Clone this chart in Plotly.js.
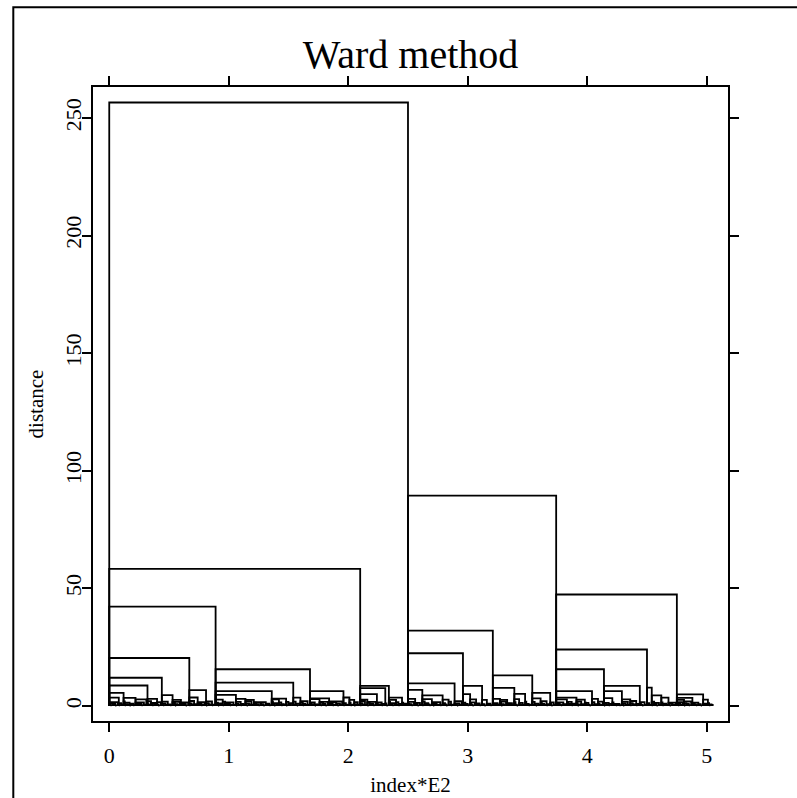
<!DOCTYPE html>
<html>
<head>
<meta charset="utf-8">
<script src="https://cdn.plot.ly/plotly-3.0.1.min.js"></script>
<style>html,body{margin:0;padding:0;background:#fff;}#chart{width:797px;height:798px;}</style>
</head>
<body>
<div id="chart"></div>
<script>
// Leaf index where a right-hand cluster starts, and the height at which it joins the cluster to its left
const majorLeaf = [
  8, 12, 22, 31, 32, 40, 44, 53, 60, 67, 74, 81, 89, 95, 106, 114, 121, 136, 142, 148, 154, 160, 168, 176, 184, 196, 201, 205,
  210, 216, 224, 231, 234, 240, 245, 250,
  256, 262, 270, 279, 284, 289, 296, 302, 307, 312, 316, 321, 327, 333, 339, 343, 348, 354, 361, 369,
  374, 383, 391, 398, 404, 409, 414, 421, 429, 436, 444, 450, 454, 462, 468, 475, 481, 488, 497, 501
];
const majorHeight = [
  3.5, 5.6, 3.4, 2.8, 8.7, 3.0, 12.0, 4.6, 2.6, 20.4, 3.6, 6.7, 42.2, 2.7, 4.7, 3.0, 2.6, 6.3, 2.8, 3.1, 9.9, 3.5, 15.6, 2.9, 3.2, 6.3, 3.6, 2.6,
  58.3, 2.7, 5.0, 7.6, 8.5, 2.6, 3.5, 256.6,
  3.0, 6.8, 2.9, 4.5, 2.7, 9.6, 22.4, 5.0, 2.8, 8.5, 2.6, 32.0, 3.0, 2.6, 7.7, 2.9, 5.1, 13.0, 3.2, 5.6,
  89.4, 2.8, 3.5, 2.7, 6.3, 3.0, 15.6, 3.3, 6.3, 2.8, 8.5, 24.0, 7.8, 4.5, 3.5, 47.4, 2.6, 3.4, 4.9, 2.7
];
// Small joining heights between neighbouring leaves (leaf k+1 joining leaf k side)
const minorHeight = [
  0.6,0.3,1.1,0.4,0.9,0.2,1.6,0.5,0.3,1.2,0.7,0.4,1.9,0.3,0.8,0.5,1.4,0.2,0.6,1.0,0.3,1.7,0.5,0.4,1.1,
  0.4,0.9,0.3,1.5,0.6,0.2,1.2,0.8,0.4,2.0,0.5,0.3,0.9,1.3,0.4,0.7,0.2,1.6,0.5,0.8,0.3,1.1,0.6,1.8,0.4,
  0.7,0.3,1.0,0.5,1.4,0.2,0.8,0.6,1.7,0.3,0.5,1.2,0.4,0.9,0.2,1.5,0.7,0.3,1.1,0.6,2.1,0.4,0.8,0.3,1.3,
  0.5,1.0,0.3,0.7,1.6,0.4,0.2,1.2,0.8,0.5,1.9,0.3,0.6,1.0,0.4,1.4,0.2,0.7,1.1,0.5,0.3,1.8,0.6,0.9,0.4,
  1.2,0.3,0.6,1.5,0.4,0.8,0.2,1.0,0.5,1.7,0.3,0.9,0.6,1.3,0.4,0.2,1.1,0.7,2.0,0.5,0.3,0.8,1.4,0.4,0.6,
  0.3,1.3,0.5,0.8,0.2,1.6,0.4,0.7,1.0,0.3,0.6,1.9,0.5,0.2,0.9,1.2,0.4,0.6,1.5,0.3,0.8,0.5,1.1,0.2,1.7,
  0.8,0.4,1.2,0.3,0.6,1.8,0.5,0.2,1.0,0.7,0.4,1.4,0.3,0.9,0.5,2.0,0.6,0.3,1.1,0.4,0.8,1.5,0.2,0.7,0.5,
  1.0,0.5,0.3,1.3,0.6,0.9,0.2,1.7,0.4,0.8,0.5,1.1,0.3,0.6,1.6,0.4,0.2,1.0,0.7,1.9,0.5,0.3,1.2,0.6,0.4,
  0.6,1.4,0.3,0.5,1.0,0.2,0.8,1.6,0.4,0.7,0.3,1.2,0.5,2.1,0.4,0.9,0.2,1.3,0.6,0.4,1.0,0.3,1.7,0.5,0.8,
  0.4,0.7,1.5,0.3,0.9,0.5,1.1,0.2,0.6,1.8,0.4,0.8,0.3,1.2,0.7,0.5,1.6,0.3,0.9,0.2,1.4,0.6,0.4,1.0,0.3,
  1.1,0.5,0.8,0.3,1.7,0.4,0.6,1.0,0.2,1.3,0.5,0.9,0.3,1.9,0.6,0.4,1.2,0.7,0.3,1.5,0.5,0.2,0.8,1.1,0.4,
  0.5,1.6,0.3,0.9,0.4,1.2,0.7,0.2,1.0,0.6,1.8,0.3,0.5,1.3,0.4,0.8,0.2,1.1,0.6,2.0,0.3,0.7,1.4,0.5,0.9,
  0.3,0.8,1.2,0.5,0.2,1.5,0.4,0.9,0.6,1.1,0.3,1.7,0.5,0.8,0.2,1.3,0.7,0.4,1.0,0.3,1.6,0.5,0.9,0.4,1.2,
  0.7,0.4,1.4,0.2,0.8,0.5,1.9,0.3,0.6,1.0,0.4,1.2,0.7,0.3,1.6,0.5,0.2,1.1,0.8,0.4,1.3,0.6,0.3,1.8,0.5,
  0.9,0.3,0.6,1.2,0.4,1.7,0.5,0.2,1.0,0.7,0.3,1.4,0.6,0.9,0.4,2.0,0.3,0.8,0.5,1.1,0.2,1.5,0.6,0.4,1.0,
  0.4,1.1,0.6,0.3,1.5,0.5,0.8,0.2,1.3,0.4,0.9,1.7,0.3,0.6,1.0,0.5,1.2,0.2,0.7,1.9,0.4,0.8,0.3,1.4,0.6,
  1.3,0.5,0.2,0.9,0.6,1.6,0.4,0.8,0.3,1.1,0.7,0.4,1.8,0.5,0.2,1.0,0.6,1.3,0.3,0.9,0.5,1.5,0.4,0.7,0.3,
  0.6,0.9,0.3,1.4,0.5,0.2,1.1,0.7,1.7,0.4,0.6,0.3,1.2,0.8,0.5,2.1,0.3,0.9,0.4,1.0,0.6,0.2,1.6,0.5,0.8,
  0.5,1.2,0.4,0.7,0.3,1.8,0.6,0.9,0.2,1.3,0.5,0.8,1.5,0.3,0.6,1.0,0.4,1.7,0.5,0.2,1.1,0.7,0.4,1.4,0.3,
  0.8,0.3,1.0,0.6,1.6,0.4,0.2,1.2,0.5,0.9,0.3,1.9,0.6,0.4,1.1,0.7,0.3,1.4,0.5,0.8,0.2,1.3,0.6,0.4,1.0,
  0.5,1.2,0.3,0.7,0.4
];
const xTickVals = [0, 1, 2, 3, 4, 5];
const yTickVals = [0, 50, 100, 150, 200, 250];
const indexScale = 100; // axis shows index * E2

// Join heights per leaf (link[i-1] = height at which leaf-i cluster joins its left neighbour)
const link = minorHeight.slice();
majorLeaf.forEach((leaf, m) => { link[leaf - 1] = majorHeight[m]; });

const xs = [], ys = [];
for (let i = 1; i <= link.length; i++) {
  const h = link[i - 1];
  let j = i - 1;
  while (j > 0 && link[j - 1] <= h) j--;
  const xj = j / indexScale, xi = i / indexScale;
  xs.push(xj, xj, xi, xi, null);
  ys.push(0, h, h, 0, null);
}

const font = 'Liberation Serif, Times New Roman, serif';
const axisCommon = {
  showline: true, linecolor: '#000', linewidth: 2, mirror: 'ticks',
  ticks: 'outside', ticklen: 9, tickwidth: 2, tickcolor: '#000',
  showgrid: false, zeroline: false, fixedrange: true,
  tickfont: {family: font, size: 22, color: '#000'}
};

const trace = {
  x: xs, y: ys, type: 'scatter', mode: 'lines',
  line: {color: '#000', width: 1.8}, hoverinfo: 'skip', showlegend: false
};

const layout = {
  width: 797, height: 798,
  margin: {l: 93, r: 69, t: 87, b: 77},
  paper_bgcolor: '#fff', plot_bgcolor: '#fff',
  font: {family: font, color: '#000'},
  title: {text: 'Ward method', font: {family: font, size: 40, color: '#000'},
          x: 0.5, xref: 'paper', xanchor: 'center', y: 1 - 54 / 798, yref: 'container', yanchor: 'middle'},
  xaxis: Object.assign({}, axisCommon, {
    range: [-0.136, 5.178], tickmode: 'array', tickvals: xTickVals,
    ticktext: xTickVals.map(String), ticklabelstandoff: 5,
    title: {text: 'index*E2', font: {family: font, size: 21, color: '#000'}, standoff: 10}
  }),
  yaxis: Object.assign({}, axisCommon, {
    range: [-6.4, 263.2], tickmode: 'array', tickvals: yTickVals,
    ticktext: yTickVals.map(String), tickangle: -90, ticklabelstandoff: -8,
    title: {text: 'distance', font: {family: font, size: 21, color: '#000'}, standoff: 12}
  }),
  shapes: [{
    type: 'rect', xref: 'paper', yref: 'paper',
    x0: (13.3 - 93) / 635, x1: (805 - 93) / 635,
    y0: (721 - 805) / 634, y1: (721 - 7.3) / 634,
    line: {color: '#000', width: 2}, fillcolor: 'rgba(0,0,0,0)', layer: 'below'
  }]
};

Plotly.newPlot('chart', [trace], layout, {staticPlot: true, displayModeBar: false});
</script>
</body>
</html>
